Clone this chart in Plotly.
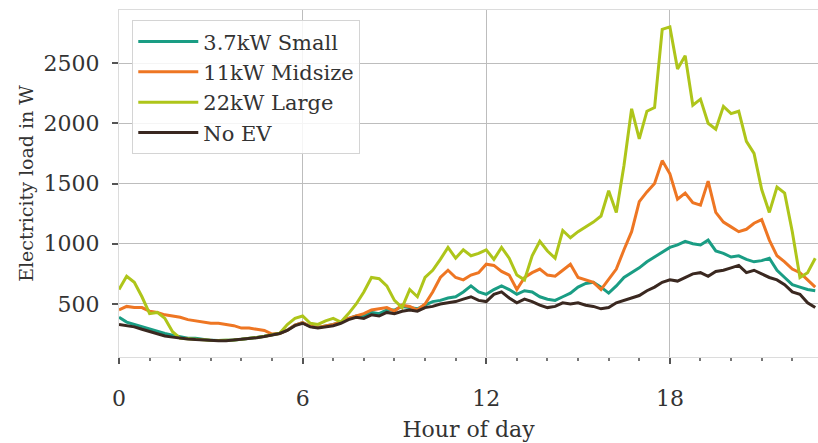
import plotly.graph_objects as go

hours = [i * 0.25 for i in range(92)]

small_37kw = [390, 350, 330, 310, 290, 275, 255, 240, 225, 215, 215, 205,
              198, 197, 197, 202, 207, 212, 222, 232, 242, 257, 282, 325,
              345, 315, 305, 315, 330, 350, 380, 400, 400, 430, 420, 450,
              450, 480, 470, 460, 490, 520, 530, 550, 560, 600, 650, 600,
              580, 620, 650, 620, 580, 610, 600, 560, 540, 530, 560, 590,
              640, 670, 680, 640, 590, 650, 720, 760, 800, 850, 890, 930,
              970, 990, 1020, 1000, 990, 1030, 940, 920, 890, 900, 870, 850,
              860, 880, 780, 720, 660, 640, 620, 610]

mid_11kw = [450, 480, 470, 470, 440, 430, 410, 400, 390, 370, 360, 350,
            340, 340, 330, 320, 300, 300, 290, 280, 250, 255, 282, 325,
            345, 315, 305, 315, 330, 350, 380, 400, 420, 450, 460, 470,
            440, 490, 480, 450, 500, 600, 720, 780, 720, 700, 740, 760,
            830, 820, 770, 740, 620, 720, 760, 790, 740, 730, 780, 830,
            720, 700, 680, 620, 700, 790, 950, 1100, 1350, 1430, 1500, 1690,
            1580, 1370, 1420, 1340, 1320, 1520, 1260, 1180, 1140, 1100, 1120, 1170,
            1200, 1030, 900, 850, 790, 760, 700, 640]

large_22kw = [620, 730, 680, 560, 420, 430, 380, 270, 215, 210, 205, 200,
              198, 197, 197, 202, 207, 212, 222, 232, 242, 257, 330, 380,
              400, 340, 330, 360, 380, 350, 420, 500, 600, 720, 710, 650,
              530, 470, 620, 560, 720, 780, 870, 970, 880, 950, 900, 920,
              950, 870, 970, 880, 740, 700, 900, 1020, 940, 880, 1110, 1050,
              1100, 1140, 1180, 1230, 1440, 1260, 1650, 2120, 1870, 2100, 2130, 2780,
              2800, 2450, 2560, 2150, 2200, 2000, 1950, 2140, 2080, 2100, 1850, 1750,
              1450, 1260, 1470, 1420, 1100, 720, 760, 880]

no_ev = [330, 320, 310, 290, 270, 250, 235, 225, 215, 210, 205, 200,
         195, 195, 195, 200, 205, 210, 220, 230, 240, 255, 280, 320,
         340, 310, 300, 310, 320, 340, 370, 390, 380, 410, 400, 430,
         420, 440, 450, 440, 470, 480, 500, 510, 520, 540, 560, 530,
         520, 580, 600, 550, 510, 540, 520, 490, 470, 480, 510, 500,
         510, 490, 480, 460, 470, 510, 530, 550, 570, 610, 640, 680,
         700, 690, 720, 750, 760, 730, 770, 780, 800, 820, 760, 780,
         750, 720, 700, 660, 600, 580, 510, 470]

series = [
    ("3.7kW Small", small_37kw, "#1a9d84"),
    ("11kW Midsize", mid_11kw, "#ee7623"),
    ("22kW Large", large_22kw, "#aec51a"),
    ("No EV", no_ev, "#3a2820"),
]

FONT = "DejaVu Serif"
TXT = "#333333"
FS = 22

fig = go.Figure()
for name, vals, col in series:
    fig.add_trace(go.Scatter(x=hours, y=vals, mode="lines", name=name,
                             line=dict(color=col, width=3)))

fig.update_layout(
    width=818, height=443,
    margin=dict(l=119, r=0, t=10, b=86),
    paper_bgcolor="white", plot_bgcolor="white",
    font=dict(family=FONT, size=FS, color=TXT),
    showlegend=True,
    legend=dict(x=0.019, y=0.97, xanchor="left", yanchor="top",
                bgcolor="rgba(255,255,255,0.85)", bordercolor="#d4d4d4",
                borderwidth=1, font=dict(family=FONT, size=21, color=TXT),
                itemwidth=60, tracegroupgap=0),
)

fig.update_xaxes(
    range=[0, 22.84],
    tickvals=[0, 6, 12, 18], ticktext=["0", "6", "12", "18"],
    ticks="outside", ticklen=6, tickwidth=1.5, tickcolor="#555555",
    minor=dict(dtick=1, ticks="outside", ticklen=3, tickcolor="#777777", showgrid=False),
    showgrid=True, gridcolor="#bdbdbd", gridwidth=1.3,
    showline=True, linecolor="#dcdcdc", linewidth=1, mirror=True,
    zeroline=False,
    ticklabelstandoff=16,
    title=dict(text="Hour of day", font=dict(family=FONT, size=FS, color=TXT), standoff=11),
)

fig.update_yaxes(
    range=[60, 2940],
    tickvals=[500, 1000, 1500, 2000, 2500],
    ticks="outside", ticklen=6, tickwidth=1.5, tickcolor="#555555",
    showgrid=True, gridcolor="#bdbdbd", gridwidth=1.3,
    showline=True, linecolor="#dcdcdc", linewidth=1, mirror=True,
    zeroline=False,
    ticklabelstandoff=8,
    title=dict(text="Electricity load in W", font=dict(family=FONT, size=19, color=TXT), standoff=4),
)

fig.write_html("out.html")
